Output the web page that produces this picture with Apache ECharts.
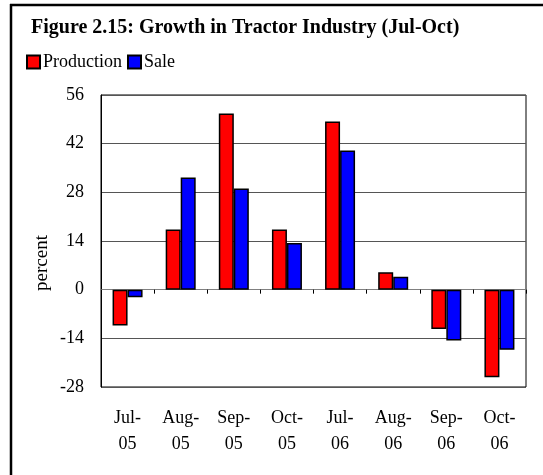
<!DOCTYPE html>
<html>
<head>
<meta charset="utf-8">
<script src="https://cdn.jsdelivr.net/npm/echarts@6/dist/echarts.min.js"></script>
<style>
  html, body { margin: 0; padding: 0; background: #fff; }
  #chart { width: 543px; height: 475px; }
</style>
</head>
<body>
<div id="chart"></div>
<script>
const categories = ['Jul-\n05', 'Aug-\n05', 'Sep-\n05', 'Oct-\n05', 'Jul-\n06', 'Aug-\n06', 'Sep-\n06', 'Oct-\n06']
const production = [-10.3, 17.3, 50.7, 17.3, 48.4, 5.0, -11.3, -25.2]
const sale = [-2.2, 32.3, 29.1, 13.4, 40.0, 3.7, -14.6, -17.3]
const yMin = -28
const yMax = 56
const yStep = 14

const serif = '"Liberation Serif", "Times New Roman", serif'

const chart = echarts.init(document.getElementById('chart'))

const barStyle = (color) => ({
  color,
  borderColor: '#000',
  borderWidth: 1.5
})

chart.setOption({
  animation: false,
  title: {
    text: 'Figure 2.15: Growth in Tractor Industry (Jul-Oct)',
    left: 31,
    top: 18,
    padding: 0,
    textStyle: { fontFamily: serif, fontWeight: 'bold', fontSize: 20, color: '#000' }
  },
  legend: {
    left: 26,
    top: 53,
    padding: 0,
    itemWidth: 13,
    itemHeight: 13,
    itemGap: 5,
    icon: 'rect',
    textStyle: { fontFamily: serif, fontSize: 18, color: '#000', padding: [0, 0, 0, -2] },
    data: ['Production', 'Sale']
  },
  grid: {
    left: 101,
    right: 17,
    top: 95,
    bottom: 88,
    show: true,
    borderColor: '#000',
    borderWidth: 1
  },
  xAxis: [
    {
      type: 'category',
      data: categories,
      axisLine: { onZero: true, lineStyle: { color: '#808080', width: 1 } },
      axisTick: { show: true, length: 4, lineStyle: { color: '#000' } },
      axisLabel: { show: false }
    },
    {
      type: 'category',
      data: categories,
      position: 'bottom',
      axisLine: { show: false },
      axisTick: { show: false },
      axisLabel: {
        margin: 18,
        fontFamily: serif,
        fontSize: 18,
        lineHeight: 26,
        color: '#000'
      }
    }
  ],
  yAxis: {
    type: 'value',
    min: yMin,
    max: yMax,
    interval: yStep,
    axisLine: { show: true, lineStyle: { color: '#000' } },
    axisTick: { show: false },
    axisLabel: { margin: 17, fontFamily: serif, fontSize: 18, color: '#000' },
    splitLine: { lineStyle: { color: '#555', width: 1 } }
  },
  series: [
    {
      name: 'Production',
      type: 'bar',
      data: production,
      barWidth: 15,
      barGap: '0%',
      itemStyle: barStyle('#ff0000')
    },
    {
      name: 'Sale',
      type: 'bar',
      data: sale,
      barWidth: 15,
      itemStyle: barStyle('#0000ff')
    }
  ],
  graphic: [
    {
      type: 'text',
      x: 42,
      y: 263,
      rotation: Math.PI / 2,
      style: {
        text: 'percent',
        fontFamily: serif,
        fontSize: 19,
        fill: '#000',
        align: 'center',
        verticalAlign: 'middle'
      }
    },
    { type: 'line', shape: { x1: 11, y1: 4, x2: 11, y2: 475 }, style: { stroke: '#000', lineWidth: 2.5 } },
    { type: 'line', shape: { x1: 10, y1: 5, x2: 543, y2: 5 }, style: { stroke: '#000', lineWidth: 2.5 } }
  ]
})
</script>
</body>
</html>
